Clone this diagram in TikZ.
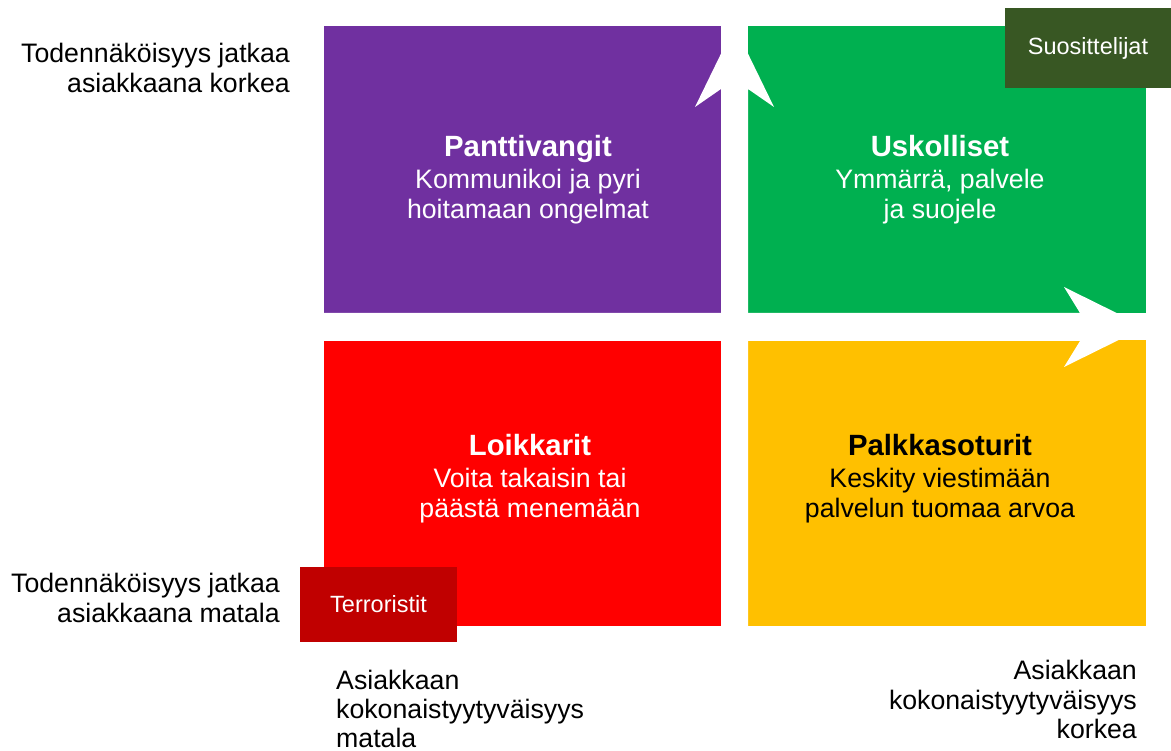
\documentclass[tikz,border=0pt]{standalone}
\usepackage{fontspec}
\setmainfont{Liberation Sans}
\usepackage{tikz}

\definecolor{hostage}{HTML}{7030A0}
\definecolor{loyal}{HTML}{00B050}
\definecolor{defector}{HTML}{FF0000}
\definecolor{mercenary}{HTML}{FFC000}
\definecolor{terror}{HTML}{C00000}
\definecolor{apostle}{HTML}{385723}
\newcommand{\bodyfont}{\fontsize{26.7}{29.5}\selectfont}
\newcommand{\quadfont}{\fontsize{26.7}{30}\selectfont}
\newcommand{\headfont}{\bfseries\fontsize{29.3}{30}\selectfont}
\newcommand{\tagfont}{\fontsize{23.5}{28}\selectfont}

\begin{document}
\begin{tikzpicture}[x=1pt,y=-1pt,
  axislabel/.style={inner sep=0pt,align=#1,font=\bodyfont},
  quadtext/.style={inner sep=0pt,align=center,anchor=north,font=\quadfont},
  tagbox/.style={inner sep=0pt,text=white,font=\tagfont}]
\useasboundingbox (0,0) rectangle (1171,751);

% four quadrants
\fill[hostage]   (324,26)  rectangle (721,313);
\fill[loyal]     (748,26)  rectangle (1146,313);
\fill[defector]  (324,340) rectangle (721,626);
\fill[mercenary] (748,340) rectangle (1146,626);

% white axis arrows
\fill[white] (721,626) -- (721,89) -- (695,107) -- (734.5,26) -- (774,107)
  -- (748,89) -- (748,626) -- cycle;
\fill[white] (324,313) -- (1080,313) -- (1064,287) -- (1145,327) -- (1064,367)
  -- (1080,341) -- (324,341) -- cycle;

% quadrant texts
\node[quadtext,text=white] (hostages) at (528,135)
  {{\headfont Panttivangit}\\[2pt]Kommunikoi ja pyri\\hoitamaan ongelmat};
\node[quadtext,text=white] (loyals) at (940,135)
  {{\headfont Uskolliset}\\[2pt]Ymmärrä, palvele\\ja suojele};
\node[quadtext,text=white] (defectors) at (530,434)
  {{\headfont Loikkarit}\\[2pt]Voita takaisin tai\\päästä menemään};
\node[quadtext,text=black] (mercenaries) at (940,434)
  {{\headfont Palkkasoturit}\\[2pt]Keskity viestimään\\palvelun tuomaa arvoa};

% corner tags
\node[tagbox,fill=apostle,minimum width=166,minimum height=80] (apostles)
  at (1088,48) {Suosittelijat};
\node[tagbox,fill=terror,minimum width=157,minimum height=75] (terrorists)
  at (378.5,604.5) {Terroristit};

% axis labels
\node[axislabel=right,anchor=north east] (highstay) at (290,43)
  {Todennäköisyys jatkaa\\asiakkaana korkea};
\node[axislabel=right,anchor=north east] (lowstay) at (280,573)
  {Todennäköisyys jatkaa\\asiakkaana matala};
\node[axislabel=left,anchor=north west,font=\fontsize{26.7}{29}\selectfont]
  (lowsat) at (336,670) {Asiakkaan\\kokonaistyytyväisyys\\matala};
\node[axislabel=right,anchor=north east] (highsat) at (1137,660)
  {Asiakkaan\\kokonaistyytyväisyys\\korkea};
\end{tikzpicture}
\end{document}
